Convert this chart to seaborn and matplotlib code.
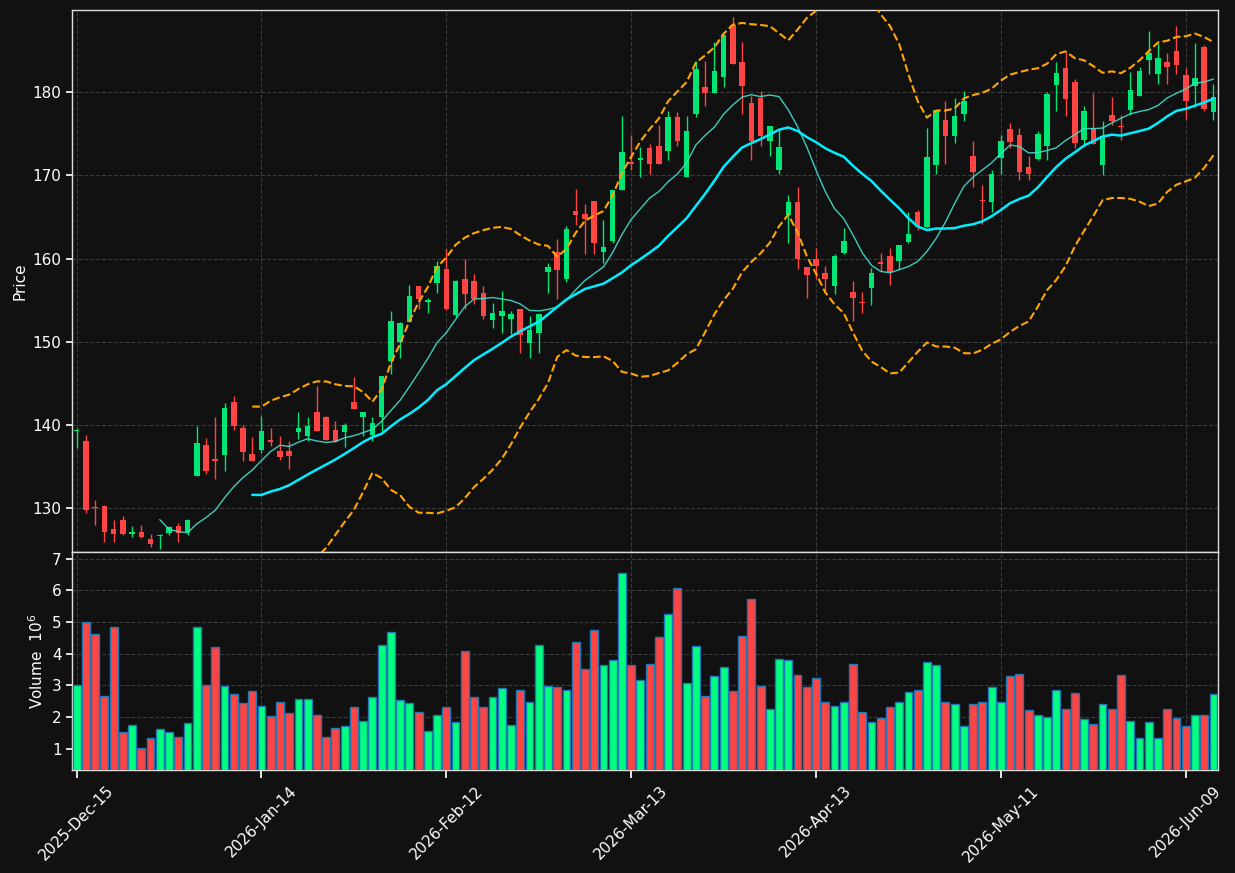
import numpy as np
import pandas as pd
import matplotlib
matplotlib.use('Agg')
import matplotlib.pyplot as plt
import seaborn as sns

# OHLC, one value per trading day
opens = [139.2, 138.1, 130.05, 130.2, 127.5, 128.6, 126.9, 127.1, 126.3, 126.6,
         127.0, 127.8, 127.1, 133.9, 137.6, 135.9, 136.4, 142.7, 139.6, 136.5,
         137.0, 138.2, 136.9, 136.9, 139.1, 138.6, 141.6, 141.0, 139.4, 139.1,
         142.8, 140.9, 138.8, 141.0, 147.7, 150.0, 152.4, 156.7, 154.8, 157.1,
         158.8, 153.2, 157.6, 157.3, 155.8, 152.6, 153.1, 152.7, 153.9, 149.9,
         151.1, 158.4, 160.8, 157.5, 165.7, 165.4, 166.9, 160.8, 162.1, 168.2,
         171.6, 171.8, 173.3, 173.6, 172.9, 177.0, 169.8, 177.4, 180.6, 179.9,
         181.8, 188.1, 183.6, 178.7, 179.3, 174.1, 170.7, 165.3, 166.8, 159.0,
         159.9, 158.3, 156.7, 160.7, 156.0, 154.8, 156.4, 159.6, 160.3, 159.7,
         162.0, 165.6, 163.8, 171.3, 176.7, 174.8, 177.4, 172.3, 167.05, 166.8,
         172.1, 175.6, 174.9, 171.0, 172.0, 173.5, 180.9, 182.9, 181.2, 174.3,
         175.7, 171.2, 177.3, 175.9, 177.9, 179.5, 183.9, 182.2, 183.6, 185.0,
         182.1, 180.8, 185.4, 177.6]
highs = [139.6, 138.8, 131.0, 130.4, 128.6, 129.0, 127.8, 128.0, 126.9, 126.9,
         127.8, 128.2, 128.7, 139.9, 138.4, 140.9, 142.6, 143.5, 140.0, 138.5,
         141.1, 139.6, 138.7, 138.0, 141.6, 141.0, 144.7, 141.1, 140.4, 140.2,
         145.8, 141.6, 141.0, 145.9, 153.7, 152.4, 156.8, 156.7, 155.3, 159.7,
         161.2, 157.4, 159.9, 158.1, 156.7, 154.7, 156.1, 153.7, 153.9, 153.1,
         153.3, 159.5, 162.3, 163.9, 168.4, 166.6, 166.9, 164.7, 168.3, 177.1,
         174.9, 173.4, 173.8, 176.1, 177.7, 177.6, 177.2, 183.8, 183.8, 186.1,
         186.9, 189.1, 186.0, 179.6, 180.1, 176.0, 175.5, 167.6, 168.6, 159.0,
         161.3, 159.1, 160.6, 163.7, 157.3, 156.0, 158.9, 160.7, 161.3, 161.6,
         165.6, 165.9, 175.7, 177.9, 178.9, 179.3, 180.1, 174.1, 168.9, 170.7,
         174.9, 176.3, 175.7, 172.3, 175.3, 180.0, 183.6, 184.9, 181.6, 178.3,
         179.9, 176.5, 179.4, 177.3, 182.5, 183.1, 187.4, 185.9, 184.7, 188.0,
         182.9, 185.9, 185.7, 181.0]
lows = [137.2, 129.4, 128.0, 125.9, 125.9, 126.8, 126.5, 126.4, 125.3, 125.1,
        126.7, 125.9, 126.7, 133.8, 134.1, 133.5, 134.5, 139.4, 135.7, 135.6,
        136.6, 137.4, 135.8, 134.7, 138.3, 138.0, 139.3, 138.2, 137.9, 137.3,
        141.9, 138.6, 138.0, 139.2, 146.1, 148.0, 152.4, 153.9, 153.5, 155.8,
        153.8, 153.0, 153.9, 154.5, 152.7, 151.6, 151.1, 150.9, 148.6, 148.0,
        148.6, 155.8, 155.1, 157.2, 164.0, 160.5, 160.6, 159.5, 161.9, 168.2,
        170.7, 169.8, 170.2, 171.4, 171.9, 173.5, 169.8, 177.0, 178.4, 179.9,
        180.6, 183.4, 177.4, 171.8, 173.5, 172.3, 170.2, 161.9, 158.7, 155.3,
        157.6, 156.0, 155.7, 160.6, 152.5, 153.5, 154.4, 158.5, 156.8, 158.7,
        161.9, 163.4, 163.8, 170.2, 171.4, 173.9, 176.6, 168.6, 164.2, 165.6,
        170.2, 173.3, 169.5, 169.4, 171.8, 171.8, 177.7, 177.2, 173.3, 173.8,
        173.8, 170.0, 176.1, 174.3, 177.3, 179.5, 182.2, 181.0, 181.0, 182.2,
        176.8, 178.2, 177.8, 176.7]
closes = [139.4, 129.7, 129.95, 127.1, 126.9, 126.9, 127.1, 126.45, 125.7, 126.7,
          127.7, 127.0, 128.6, 137.8, 134.5, 135.7, 142.0, 139.9, 136.7, 135.6,
          139.3, 137.9, 136.1, 136.3, 139.6, 139.8, 139.3, 138.2, 137.9, 140.0,
          141.9, 141.5, 140.2, 145.9, 152.5, 152.2, 155.5, 155.1, 155.0, 159.1,
          153.9, 157.3, 155.7, 155.1, 153.1, 153.4, 153.7, 153.3, 150.8, 151.4,
          153.3, 159.0, 158.6, 163.6, 165.2, 164.8, 161.9, 161.4, 168.3, 172.8,
          171.4, 172.1, 171.4, 171.4, 177.0, 174.1, 175.4, 182.8, 179.9, 182.6,
          186.9, 183.4, 180.8, 174.2, 174.8, 176.0, 173.4, 166.8, 159.9, 158.0,
          159.1, 157.6, 160.3, 162.1, 155.2, 154.6, 158.3, 159.4, 158.4, 161.6,
          162.9, 163.8, 172.2, 177.9, 174.8, 177.1, 179.0, 170.4, 166.95, 170.2,
          174.1, 174.0, 170.4, 170.2, 175.0, 179.8, 182.3, 179.2, 173.9, 177.7,
          173.8, 174.7, 176.6, 175.8, 180.3, 182.6, 184.7, 184.1, 183.0, 183.3,
          178.9, 181.7, 178.0, 179.4]
# volume in millions
volumes = [3.0, 5.0, 4.61, 2.68, 4.83, 1.52, 1.74, 1.01, 1.33, 1.61,
           1.52, 1.36, 1.80, 4.83, 3.0, 4.2, 2.97, 2.72, 2.43, 2.81,
           2.34, 2.02, 2.46, 2.14, 2.56, 2.56, 2.05, 1.36, 1.64, 1.71,
           2.31, 1.89, 2.62, 4.26, 4.67, 2.53, 2.43, 2.15, 1.55, 2.05,
           2.31, 1.83, 4.09, 2.62, 2.31, 2.62, 2.91, 1.74, 2.87, 2.49,
           4.26, 2.97, 2.94, 2.84, 4.36, 3.51, 4.74, 3.63, 3.79, 6.54,
           3.63, 3.16, 3.69, 4.52, 5.24, 6.06, 3.06, 4.23, 2.68, 3.29,
           3.57, 2.81, 4.55, 5.72, 2.97, 2.27, 3.82, 3.79, 3.32, 2.94,
           3.22, 2.49, 2.34, 2.49, 3.69, 2.15, 1.83, 1.96, 2.31, 2.46,
           2.78, 2.84, 3.75, 3.63, 2.46, 2.40, 1.71, 2.40, 2.49, 2.94,
           2.46, 3.29, 3.35, 2.21, 2.08, 1.99, 2.84, 2.24, 2.75, 1.93,
           1.77, 2.40, 2.24, 3.32, 1.89, 1.33, 1.86, 1.33, 2.24, 1.96,
           1.71, 2.05, 2.05, 2.72]
tick_labels = ['2025-Dec-15', '2026-Jan-14', '2026-Feb-12', '2026-Mar-13',
               '2026-Apr-13', '2026-May-11', '2026-Jun-09']

BG = '#111111'
UP, DOWN = '#00e676', '#ff4444'
VOL_UP, VOL_DOWN = '#00ff7f', '#ff4444'

df = pd.DataFrame({'open': opens, 'high': highs, 'low': lows,
                   'close': closes, 'volume': volumes})
df['idx'] = np.arange(len(df))
df['ma10'] = df['close'].rolling(10).mean()
df['ma20'] = df['close'].rolling(20).mean()
std20 = df['close'].rolling(20).std(ddof=0)
df['upper'] = df['ma20'] + 2 * std20
df['lower'] = df['ma20'] - 2 * std20
up = df['close'] >= df['open']

sns.set_theme(style='dark')
plt.rcParams.update({
    'figure.facecolor': BG, 'axes.facecolor': BG, 'axes.edgecolor': '#dddddd',
    'text.color': 'white', 'axes.labelcolor': 'white',
    'xtick.color': 'white', 'ytick.color': 'white',
    'font.family': ['DejaVu Sans'],
})

fig = plt.figure(figsize=(12.35, 8.73), dpi=100)
ax = fig.add_axes([0.0583, 0.3677, 0.928, 0.6208])
axv = fig.add_axes([0.0583, 0.118, 0.928, 0.2497], sharex=ax)

# candles
colors = np.where(up, UP, DOWN)
ax.vlines(df['idx'], df['low'], df['high'], colors=colors, linewidth=1, zorder=2)
body_bottom = np.minimum(df['open'], df['close'])
body_h = np.maximum((df['close'] - df['open']).abs(), 0.15)
ax.bar(df['idx'], body_h, bottom=body_bottom, width=0.6, color=colors,
       linewidth=0, zorder=3)

# moving averages and bands
sns.lineplot(data=df, x='idx', y='ma10', ax=ax, estimator=None,
             color='#40e0d0', linewidth=1, alpha=0.9, zorder=4)
sns.lineplot(data=df, x='idx', y='ma20', ax=ax, estimator=None,
             color='#00eeff', linewidth=1.8, zorder=4)
for col in ['upper', 'lower']:
    sns.lineplot(data=df, x='idx', y=col, ax=ax, estimator=None,
                 color='#ffa500', linewidth=1.5, linestyle='--', zorder=4)

ax.set_ylim(124.7, 189.9)
ax.set_yticks([130, 140, 150, 160, 170, 180])
ax.set_ylabel('Price', fontsize=11)
ax.set_xlabel('')
ax.tick_params(axis='x', labelbottom=False, length=0)

# volume
vcolors = np.where(up, VOL_UP, VOL_DOWN)
axv.bar(df['idx'], df['volume'], width=0.85, color=vcolors,
        edgecolor='#1f77b4', linewidth=1, zorder=3)
axv.set_ylim(0.33, 7.21)
axv.set_yticks(range(1, 8))
axv.set_ylabel('Volume  $10^{6}$', fontsize=11)

ticks = list(range(0, len(df), 20))
axv.set_xticks(ticks)
axv.set_xticklabels(tick_labels, rotation=45, ha='center', fontsize=11)
axv.set_xlim(-0.5, len(df) - 0.5)

for a in (ax, axv):
    a.grid(True, linestyle='--', color='#3a3a3a', linewidth=0.8, zorder=0)
    a.set_axisbelow(True)
    a.tick_params(axis='y', labelsize=11, length=4, color='white', left=True)
    a.tick_params(axis='x', bottom=True, color='white')
    for s in a.spines.values():
        s.set_color('#dddddd')
        s.set_linewidth(1)

plt.savefig('out.png', dpi=100, facecolor=BG)
